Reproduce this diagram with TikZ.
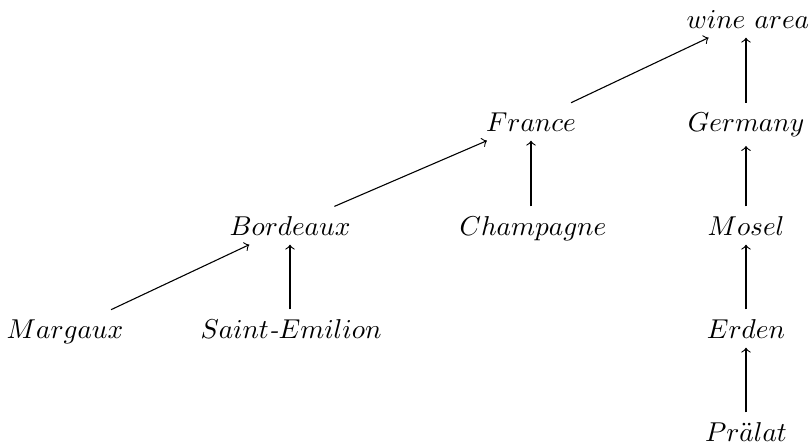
\documentclass[tikz,border=0pt]{standalone}
\usetikzlibrary{arrows}
\begin{document}
\begin{tikzpicture}[x=0.3663pt,y=-0.3663pt,
  place/.style={anchor=base},
  link/.style={->}]
\useasboundingbox (0,0) rectangle (810,447);
% wine areas, one row per level
\node[place] (wine) at (748,28) {$wine\ area$};
\node[place] (fr) at (531,131) {$France$};
\node[place] (de) at (746,131) {$Germany$};
\node[place] (bd) at (290,235) {$Bordeaux$};
\node[place] (ch) at (533,235) {$Champagne$};
\node[place] (mo) at (746,235) {$Mosel$};
\node[place] (ma) at (65,338) {$Margaux$};
\node[place] (se) at (291,338) {$Saint$\textit{-}$Emilion$};
\node[place] (er) at (746,338) {$Erden$};
\node[place] (pr) at (746,441) {$Pr\ddot{a}lat$};
% links from each area up to the area that contains it
\draw[link] (ma) -- (bd);
\draw[link] (bd) -- (fr);
\draw[link] (fr) -- (wine);
\draw[link] (se.north -| bd) -- (bd.south);
\draw[link] (ch.north -| fr) -- (fr.south);
\draw[link] (de.north) -- (de.north |- wine.south);
\draw[link] (mo.north) -- (de.south);
\draw[link] (er.north) -- (mo.south);
\draw[link] (pr.north) -- (er.south);
\end{tikzpicture}
\end{document}
